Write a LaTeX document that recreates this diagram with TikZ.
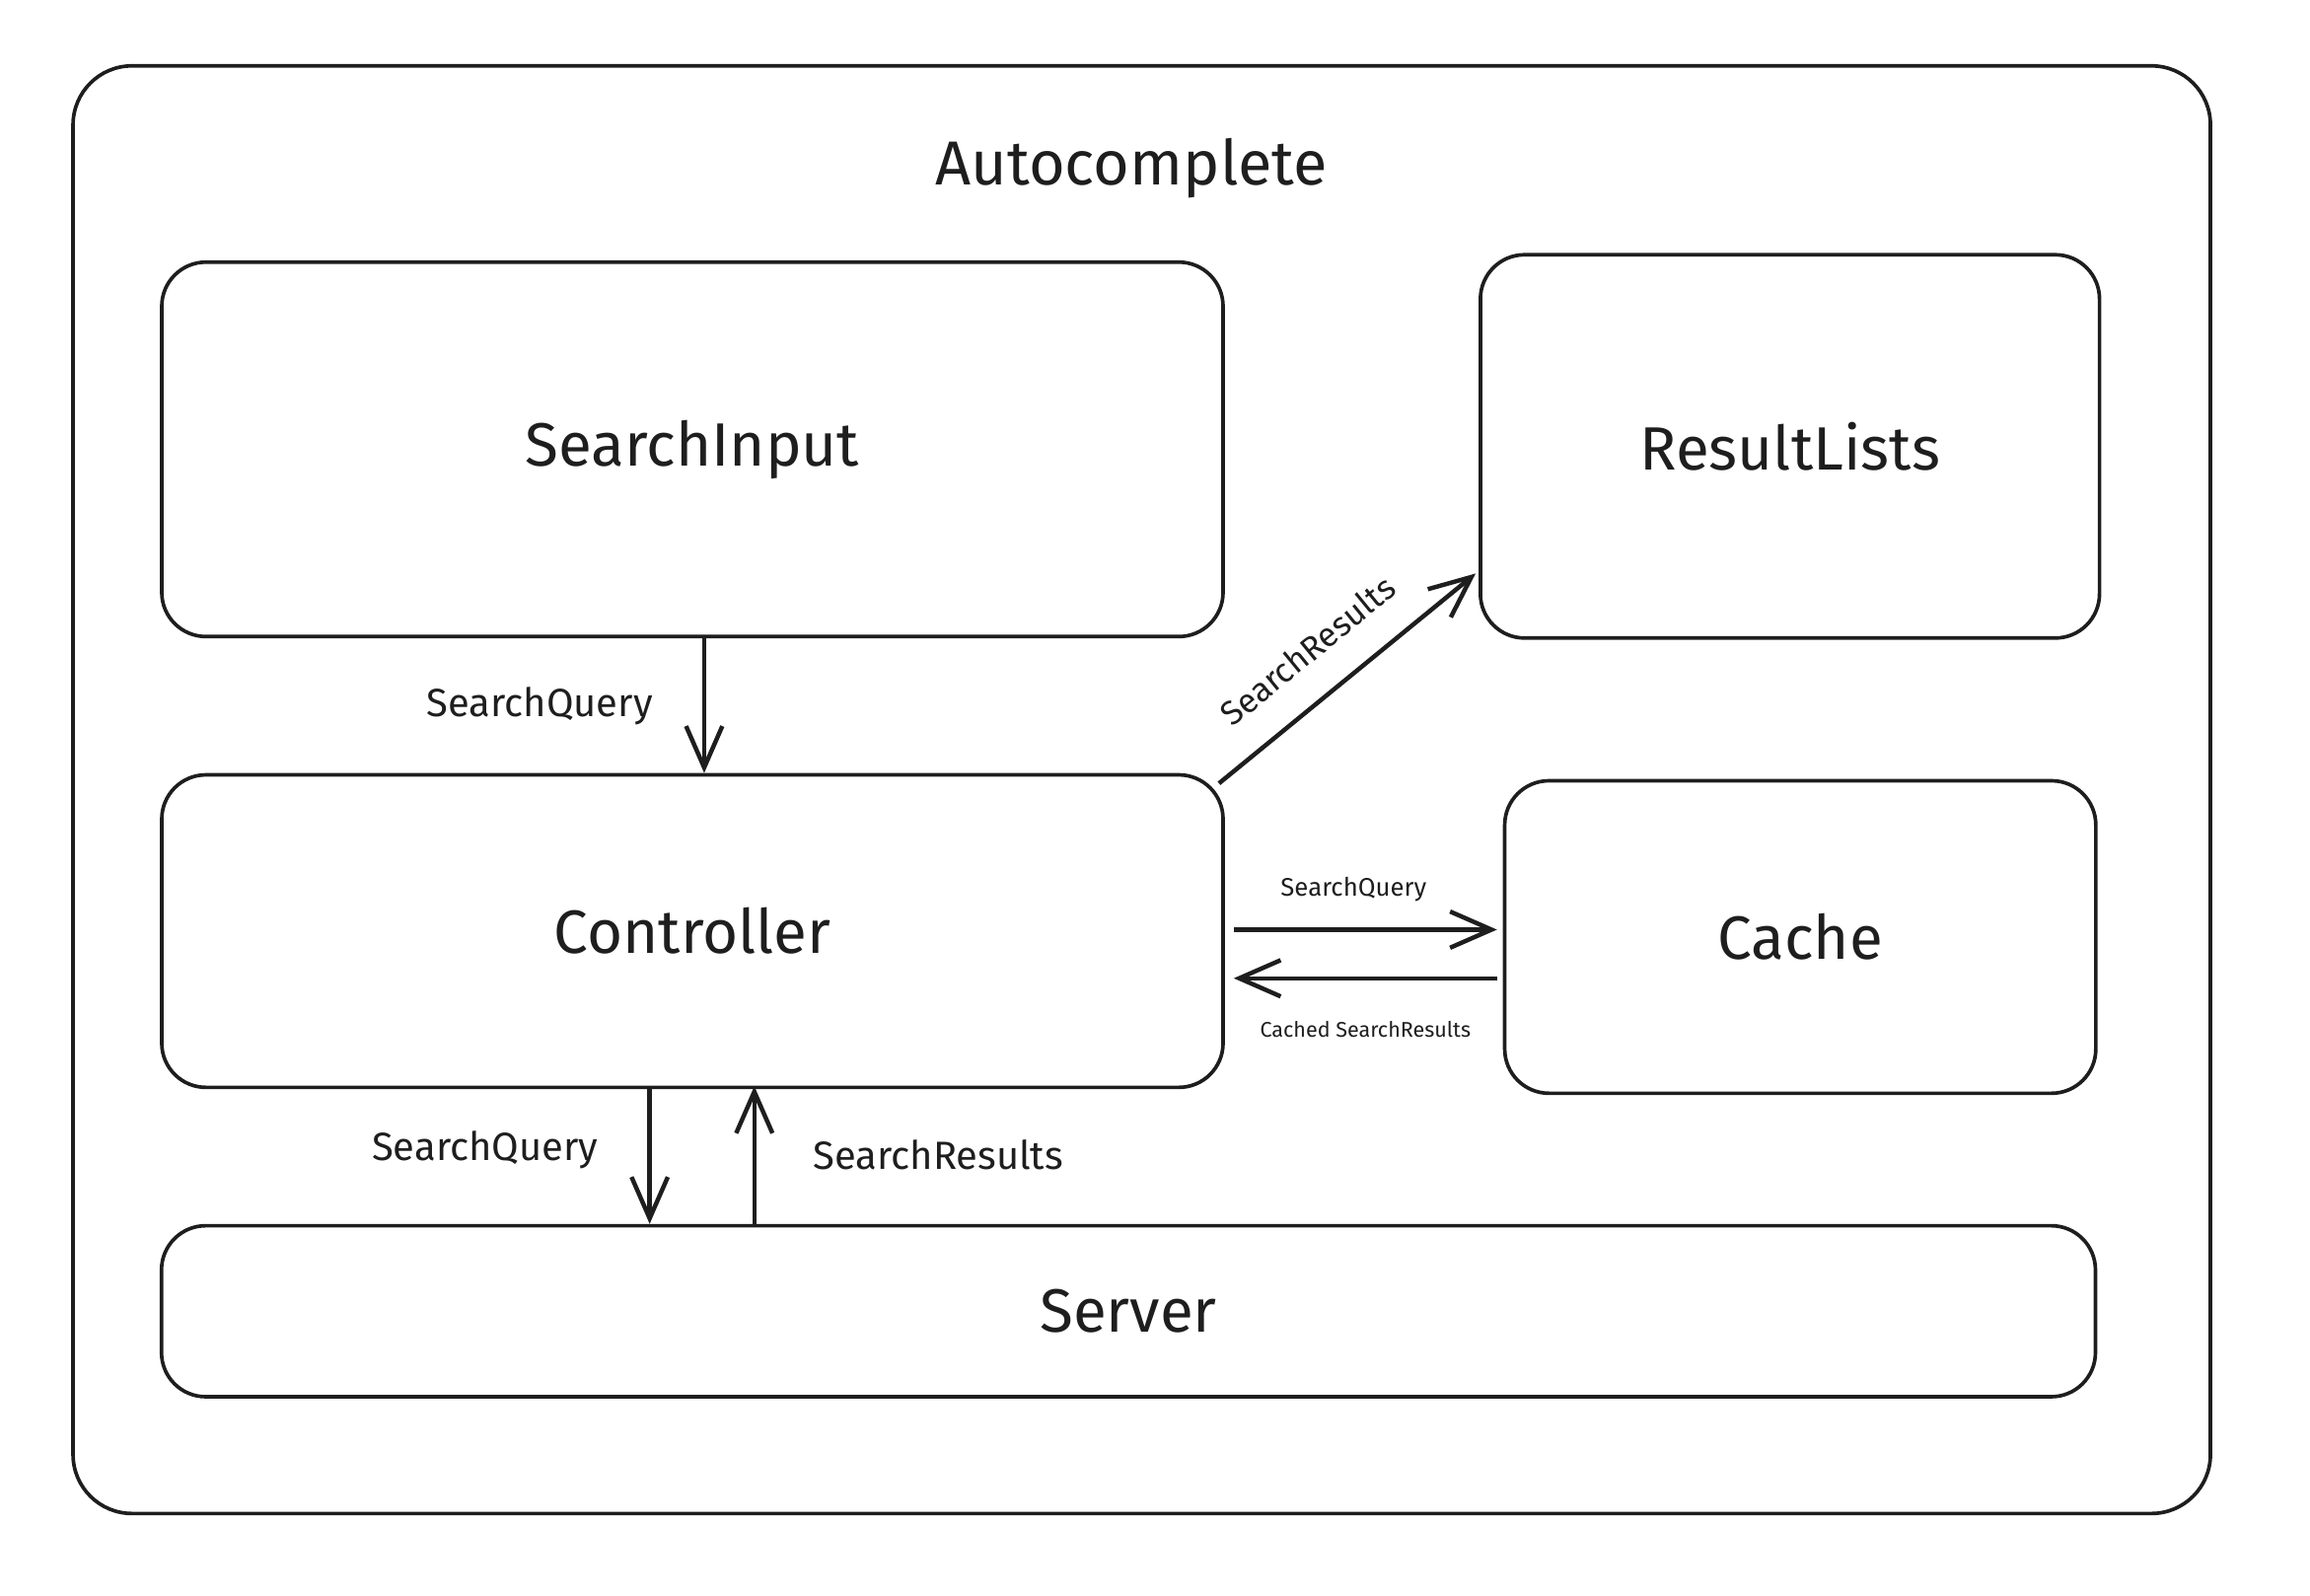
\documentclass[tikz,border=0pt]{standalone}
\usepackage{fontspec}
\setmainfont{Fira Sans}
\usetikzlibrary{arrows.meta}
\definecolor{ink}{HTML}{1E1E1E}
\tikzset{
    box/.style={draw=ink, line width=0.7pt, rounded corners=0.3cm, inner sep=0pt,
        font=\fontsize{11.8}{14}\selectfont, text=ink},
    flow/.style={draw=ink, line width=0.85pt, -{Straight Barb[length=8pt,width=7pt]}},
    lbl/.style={font=\fontsize{7.6}{9}\selectfont, text=ink, inner sep=1pt},
}
\begin{document}
\begin{tikzpicture}[x=0.01cm, y=-0.01cm]
        \useasboundingbox (0,0) rectangle (1568,1083);

        % outer frame
        \node[box, rounded corners=0.4cm, minimum width=14.5cm, minimum height=9.82cm] (frame) at (775,536) {};
        \node[text=ink, font=\fontsize{12}{14}\selectfont] (title) at (768,114) {Autocomplete};

        % components
        \node[box, minimum width=7.2cm, minimum height=2.54cm] (si) at (470,305) {SearchInput};
        \node[box, minimum width=4.2cm, minimum height=2.6cm] (rl) at (1215,303) {ResultLists};
        \node[box, minimum width=7.2cm, minimum height=2.12cm] (ctrl) at (470,632) {Controller};
        \node[box, minimum width=4.01cm, minimum height=2.12cm] (cache) at (1222,636) {Cache};
        \node[box, minimum width=13.12cm, minimum height=1.16cm] (srv) at (766,890) {Server};

        % SearchInput -> Controller
        \draw[flow] ([xshift=0.08cm]si.south) -- ([xshift=0.08cm]ctrl.north)
            node[lbl, midway, left=0.3cm] (q0) {SearchQuery};

        % Controller -> ResultLists
        \coordinate (r0) at ([xshift=-0.04cm, yshift=-0.07cm]ctrl.north east);
        \coordinate (r1) at ([xshift=-0.02cm, yshift=0.45cm]rl.south west);
        \draw[flow] (r0) -- (r1)
            node[lbl, pos=0.46, sloped, above=0.18cm, font=\fontsize{6.5}{8}\selectfont] (r2) {SearchResults};

        % Controller <-> Cache
        \coordinate (c0) at ([xshift=0.06cm, yshift=0.01cm]ctrl.east);
        \coordinate (c1) at ([xshift=-0.04cm, yshift=-0.28cm]cache.west);
        \draw[flow] (c0) -- (c0 -| c1)
            node[lbl, midway, above=0.14cm, xshift=-0.08cm, font=\fontsize{4.9}{6}\selectfont] (q1) {SearchQuery};
        \draw[flow] (c1) -- (c1 -| c0)
            node[lbl, midway, below=0.24cm, font=\fontsize{4.1}{5}\selectfont] (cr) {Cached SearchResults};

        % Controller <-> Server
        \coordinate (s0) at ([xshift=-0.29cm]ctrl.south);
        \coordinate (s1) at ([xshift=0.42cm]ctrl.south);
        \draw[flow] (s0) -- (s0 |- srv.north) node[lbl, pos=0.45, left=0.3cm] (q2) {SearchQuery};
        \draw[flow] (s1 |- srv.north) -- ([yshift=0.02cm]s1) node[lbl, pos=0.5, right=0.35cm] (r3) {SearchResults};
    \end{tikzpicture}
\end{document}
